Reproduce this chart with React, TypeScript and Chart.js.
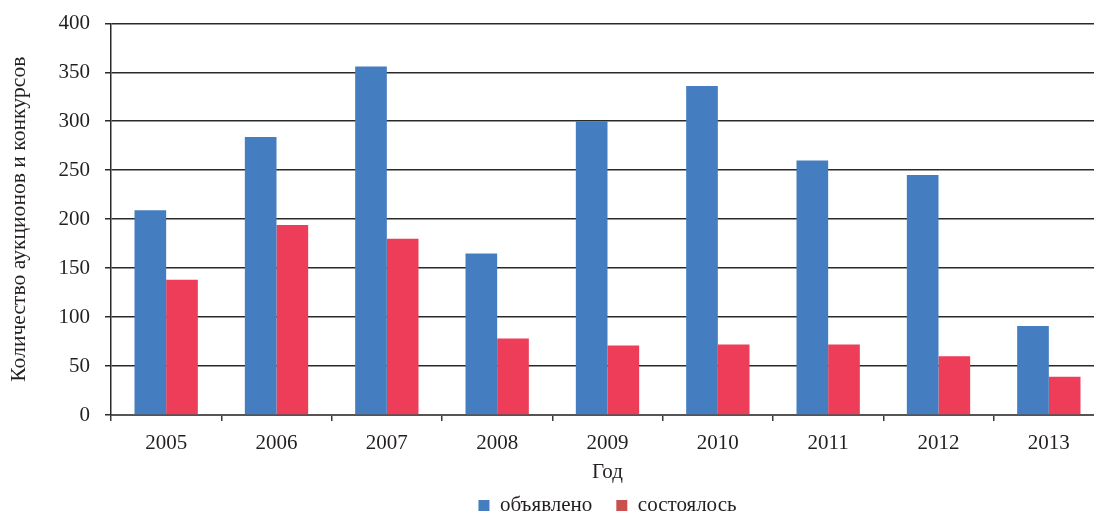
import React, { useEffect, useRef } from "react";
import { Chart, registerables } from "chart.js";

Chart.register(...registerables);

const categories = ["2005", "2006", "2007", "2008", "2009", "2010", "2011", "2012", "2013"];
const announced = [209, 284, 356, 165, 300, 336, 260, 245, 91];
const held = [138, 194, 180, 78, 71, 72, 72, 60, 39];
const seriesNames = ["объявлено", "состоялось"];
const yTicks = [0, 50, 100, 150, 200, 250, 300, 350, 400];
const yTitle = "Количество аукционов и конкурсов";
const xTitle = "Год";

const BLUE = "#447ec0";
const RED = "#ee3d58";
const LEGEND_RED = "#c9504f";
const TEXT = "#231f20";
const FONT = "'Liberation Serif', 'Times New Roman', serif";

export default function App() {
  const ref = useRef<HTMLCanvasElement | null>(null);

  useEffect(() => {
    if (!ref.current) return;
    const chart = new Chart(ref.current, {
      type: "bar",
      data: {
        labels: categories,
        datasets: [
          {
            label: seriesNames[0],
            data: announced,
            backgroundColor: BLUE,
            borderWidth: 0,
            categoryPercentage: 0.574,
            barPercentage: 1,
          },
          {
            label: seriesNames[1],
            data: held,
            backgroundColor: RED,
            borderWidth: 0,
            categoryPercentage: 0.574,
            barPercentage: 1,
          },
        ],
      },
      options: {
        animation: false,
        responsive: true,
        maintainAspectRatio: false,
        layout: { padding: { top: 23.3, left: 0, right: 0, bottom: 0 } },
        plugins: {
          tooltip: { enabled: false },
          legend: {
            position: "bottom",
            fullSize: false,
            labels: {
              color: TEXT,
              font: { family: FONT, size: 21 },
              boxWidth: 11,
              boxHeight: 11,
              padding: 24,
              generateLabels: () =>
                seriesNames.map((name, i) => ({
                  text: name,
                  fillStyle: i === 0 ? BLUE : LEGEND_RED,
                  strokeStyle: i === 0 ? BLUE : LEGEND_RED,
                  lineWidth: 0,
                  hidden: false,
                  datasetIndex: i,
                  fontColor: TEXT,
                })),
            },
          },
        },
        scales: {
          x: {
            type: "category",
            grid: {
              display: true,
              offset: true,
              drawOnChartArea: false,
              drawTicks: true,
              tickLength: 6,
              color: "#3a3a3a",
              lineWidth: 1.5,
            },
            border: { display: true, color: "#555555", width: 2 },
            ticks: {
              color: TEXT,
              font: { family: FONT, size: 21 },
              padding: 10,
              maxRotation: 0,
              autoSkip: false,
            },
            title: {
              display: true,
              text: xTitle,
              color: TEXT,
              font: { family: FONT, size: 21 },
              padding: { top: 0, bottom: -14 },
            },
            afterFit: (scale: any) => {
              scale.height = 56;
            },
          },
          y: {
            min: 0,
            max: 400,
            afterBuildTicks: (scale: any) => {
              scale.ticks = yTicks.map((v) => ({ value: v }));
            },
            grid: {
              display: true,
              drawTicks: true,
              tickLength: 6,
              color: "#2a2a2a",
              lineWidth: 1.5,
            },
            border: { display: true, color: "#2a2a2a", width: 1.5 },
            ticks: {
              color: TEXT,
              font: { family: FONT, size: 21 },
              padding: 15,
            },
            title: {
              display: true,
              text: yTitle,
              color: TEXT,
              font: { family: FONT, size: 21.6 },
              padding: { top: 6, bottom: 0 },
            },
            afterFit: (scale: any) => {
              scale.width = 111;
              scale.paddingTop = 0;
              scale.paddingBottom = 0;
            },
          },
        },
      },
    });
    return () => chart.destroy();
  }, []);

  return (
    <div style={{ position: "absolute", left: 0, top: 0, width: 1094, height: 513, overflow: "hidden", background: "#fff" }}>
      <div style={{ position: "relative", width: 1104, height: 526 }}>
        <canvas ref={ref} />
      </div>
    </div>
  );
}
